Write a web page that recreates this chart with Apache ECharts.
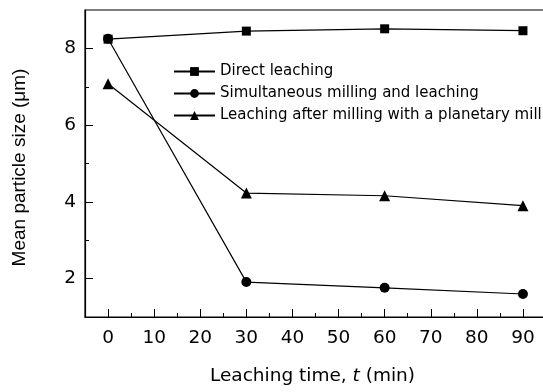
<!DOCTYPE html>
<html>
<head>
<meta charset="utf-8">
<script src="https://cdn.jsdelivr.net/npm/echarts@6/dist/echarts.min.js"></script>
<style>html,body{margin:0;padding:0;background:#fff;}#c{width:543px;height:392px;}</style>
</head>
<body>
<div id="c"></div>
<script>
// Data
var times = [0, 30, 60, 90];
var directLeaching = [8.24, 8.45, 8.51, 8.46];
var simultaneous = [8.25, 1.91, 1.76, 1.60];
var planetary = [7.08, 4.23, 4.16, 3.90];
var seriesNames = ['Direct leaching', 'Simultaneous milling and leaching', 'Leaching after milling with a planetary mill'];
var xMajorTicks = [0, 10, 20, 30, 40, 50, 60, 70, 80, 90];
var xMinorTicks = [5, 15, 25, 35, 45, 55, 65, 75, 85];
var yMajorTicks = [2, 4, 6, 8];
var yMinorTicks = [3, 5, 7];

function pairs(xs, ys) { return xs.map(function (x, i) { return [x, ys[i]]; }); }

var FONT_H = 'DejaVu Sans';
var FONT_V = 'Liberation Sans';
var chart = echarts.init(document.getElementById('c'), null, { renderer: 'canvas' });
var lineStyle = { color: '#000', width: 1.2 };
var axisLine = { show: true, onZero: false, lineStyle: { color: '#000', width: 1.2 } };

chart.setOption({
  animation: false,
  backgroundColor: '#fff',
  grid: { left: 85, right: -3, top: 10, bottom: 75, outerBoundsMode: 'none', containLabel: false, show: true, borderColor: '#000', borderWidth: 1.2, backgroundColor: 'transparent' },
  legend: {
    orient: 'vertical', left: 173, top: 64, padding: 0,
    itemWidth: 41, itemHeight: 11, itemGap: 7,
    textStyle: { fontFamily: FONT_H, fontSize: 15, color: '#000' },
    data: seriesNames
  },
  xAxis: [{
    type: 'value', min: -5, max: 95, position: 'bottom',
    axisLine: axisLine,
    axisTick: { show: true, inside: true, length: 8, customValues: xMajorTicks, lineStyle: { color: '#000', width: 1 } },
    axisLabel: { customValues: xMajorTicks, fontFamily: FONT_H, fontSize: 18.5, color: '#000', margin: 12 },
    splitLine: { show: false },
    name: '{n|Leaching time, }{i|t}{n| (min)}',
    nameLocation: 'middle', nameGap: 50,
    nameTextStyle: { padding: [0, 6, 0, 0], rich: { n: { fontFamily: FONT_H, fontSize: 18.5, color: '#000' }, i: { fontFamily: FONT_H, fontSize: 18.5, fontStyle: 'italic', color: '#000' } } }
  }, {
    type: 'value', min: -5, max: 95, position: 'bottom',
    axisLine: { show: false, onZero: false },
    axisTick: { show: true, inside: true, length: 4, customValues: xMinorTicks, lineStyle: { color: '#000', width: 1 } },
    axisLabel: { show: false },
    splitLine: { show: false }
  }],
  yAxis: [{
    type: 'value', min: 1, max: 9, position: 'left',
    axisLine: axisLine,
    axisTick: { show: true, inside: true, length: 8, customValues: yMajorTicks, lineStyle: { color: '#000', width: 1 } },
    axisLabel: { customValues: yMajorTicks, fontFamily: FONT_H, fontSize: 18.5, color: '#000', margin: 9 },
    splitLine: { show: false },
    name: 'Mean particle size (\u03bcm)',
    nameLocation: 'middle', nameGap: 56, nameRotate: 90,
    nameTextStyle: { fontFamily: FONT_V, fontSize: 19, color: '#000', padding: [0, 8, 0, 0] }
  }, {
    type: 'value', min: 1, max: 9, position: 'left',
    axisLine: { show: false, onZero: false },
    axisTick: { show: true, inside: true, length: 4, customValues: yMinorTicks, lineStyle: { color: '#000', width: 1 } },
    axisLabel: { show: false },
    splitLine: { show: false }
  }],
  series: [{
    name: seriesNames[0], type: 'line', data: pairs(times, directLeaching),
    symbol: 'rect', symbolSize: 9, lineStyle: lineStyle, itemStyle: { color: '#000' }, z: 2
  }, {
    name: seriesNames[1], type: 'line', data: pairs(times, simultaneous),
    symbol: 'circle', symbolSize: 10, lineStyle: lineStyle, itemStyle: { color: '#000' }, z: 3
  }, {
    name: seriesNames[2], type: 'line', data: pairs(times, planetary),
    symbol: 'triangle', symbolSize: 11, lineStyle: lineStyle, itemStyle: { color: '#000' }, z: 2
  }]
});
</script>
</body>
</html>
